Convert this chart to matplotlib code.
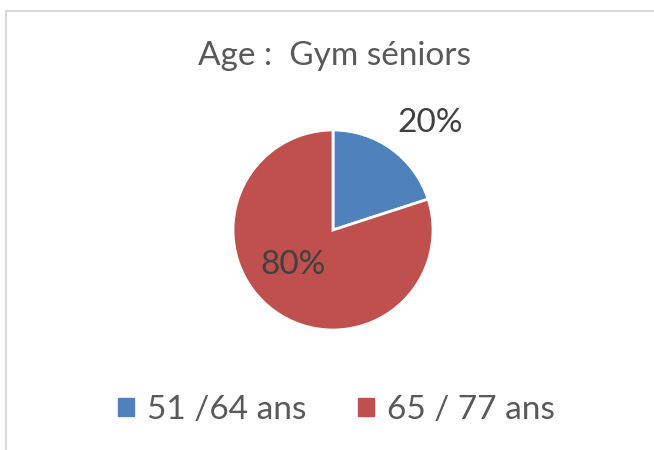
import matplotlib
matplotlib.use("Agg")
import matplotlib.pyplot as plt
import matplotlib.patches as mpatches
import numpy as np

title = "Age :  Gym séniors"
categories = ["51 /64 ans", "65 / 77 ans"]
shares = [20, 80]
colors = ["#4F81BD", "#C0504D"]

plt.rcParams['font.family'] = ['Lato', 'DejaVu Sans']

W, H = 654, 450
fig = plt.figure(figsize=(W / 100, H / 100), dpi=100)
fig.patch.set_facecolor("white")

# chart frame, open on right/bottom (cropped in the source)
frame = mpatches.Rectangle((6 / W, -0.1), 1.2, 1.1 - 11 / H,
                           transform=fig.transFigure, fill=False,
                           edgecolor="#D9D9D9", linewidth=1.5)
fig.patches.append(frame)

fig.text(334 / W, 1 - 56 / H, title, ha="center", va="center",
         fontsize=24, color="#595959")

cx, cy, r = 333, 230, 100
ax = fig.add_axes([(cx - r) / W, (H - cy - r) / H, 2 * r / W, 2 * r / H])
wedges, texts, autotexts = ax.pie(
    shares, colors=colors, startangle=90, counterclock=False,
    autopct="%d%%", wedgeprops=dict(edgecolor="white", linewidth=2),
    textprops=dict(fontsize=24, color="#404040"))
ax.set_xlim(-1, 1)
ax.set_ylim(-1, 1)
ax.set_aspect("equal")

# label placement like Excel's best fit
label_pos = [(0.97, 1.07), (-0.40, -0.35)]
for t, p in zip(autotexts, label_pos):
    t.set_position(p)
    t.set_ha("center")
    t.set_va("center")

handles = [mpatches.Patch(color=c) for c in colors]
fig.legend(handles, categories, loc="center", bbox_to_anchor=(336.5 / W, 1 - 410 / H),
           ncol=2, frameon=False, fontsize=24, labelcolor="#595959",
           handlelength=0.48, handleheight=0.48, handletextpad=0.39,
           columnspacing=1.56, borderpad=0, borderaxespad=0)

fig.savefig("out.png", dpi=100)
